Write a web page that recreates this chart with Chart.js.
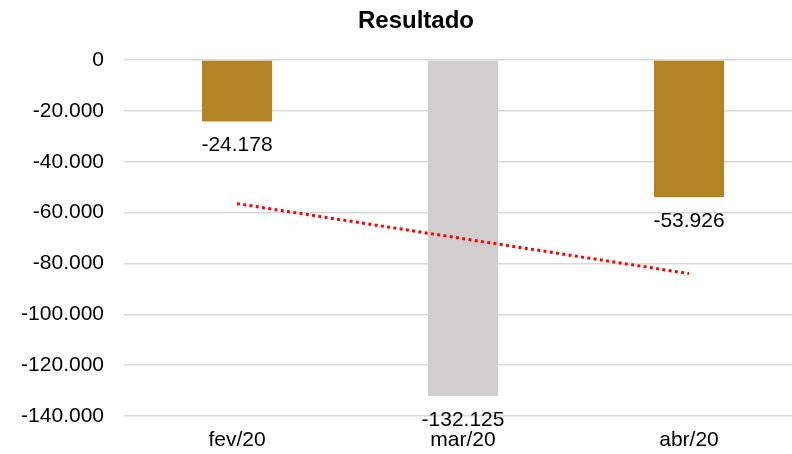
<!DOCTYPE html>
<html>
<head>
<meta charset="utf-8">
<script src="https://cdn.jsdelivr.net/npm/chart.js@4.4.1/dist/chart.umd.min.js"></script>
<style>
  html, body { margin: 0; padding: 0; background: #fff; overflow: hidden; }
  #wrap { width: 810px; height: 454px; position: relative; }
</style>
</head>
<body>
<div id="wrap"><canvas id="c"></canvas></div>
<script>
const categories = ['fev/20', 'mar/20', 'abr/20'];
const resultado = [-24178, -132125, -53926];
const trendValues = [-56500, -70250, -84000];
const yTicks = [0, -20000, -40000, -60000, -80000, -100000, -120000, -140000];
const barColors = ['#B38423', '#D0CECE', '#B38423'];
const chartTitle = 'Resultado';

function fmt(v) {
  const neg = v < 0;
  let s = Math.abs(Math.round(v)).toString();
  s = s.replace(/\B(?=(\d{3})+(?!\d))/g, '.');
  return (neg ? '-' : '') + s;
}

const FONT = '"Liberation Sans", Arial, sans-serif';

const labelPlugin = {
  id: 'barLabels',
  afterDatasetsDraw(chart) {
    const ctx = chart.ctx;
    const meta = chart.getDatasetMeta(1);
    ctx.save();
    ctx.font = '21px ' + FONT;
    ctx.fillStyle = '#000';
    ctx.textAlign = 'center';
    ctx.textBaseline = 'middle';
    meta.data.forEach((bar, i) => {
      ctx.fillText(fmt(resultado[i]), bar.x, bar.y + 24);
    });
    ctx.restore();
  }
};

const titlePlugin = {
  id: 'centeredTitle',
  afterDraw(chart) {
    const ctx = chart.ctx;
    ctx.save();
    ctx.font = 'bold 24px ' + FONT;
    ctx.fillStyle = '#000';
    ctx.textAlign = 'center';
    ctx.textBaseline = 'middle';
    ctx.fillText(chartTitle, 416, 21);
    ctx.restore();
  }
};

new Chart(document.getElementById('c'), {
  type: 'bar',
  data: {
    labels: categories,
    datasets: [
      {
        type: 'line',
        label: 'Tendência',
        data: trendValues,
        borderColor: '#FF0000',
        borderWidth: 3,
        borderDash: [3, 3.33],
        pointRadius: 0,
        fill: false,
        order: 0
      },
      {
        label: 'Resultado',
        data: resultado,
        backgroundColor: barColors,
        borderWidth: 0,
        categoryPercentage: 1,
        barPercentage: 0.31,
        order: 1
      }
    ]
  },
  options: {
    responsive: true,
    maintainAspectRatio: false,
    animation: false,
    layout: { padding: { left: 0, right: 8, top: 60, bottom: 0 } },
    plugins: {
      legend: { display: false },
      tooltip: { enabled: false },
      title: { display: false }
    },
    scales: {
      x: {
        grid: { display: false, drawTicks: false },
        border: { display: false },
        ticks: {
          color: '#000',
          font: { family: FONT, size: 21 },
          padding: 12
        },
        afterFit(scale) { scale.height = 38; }
      },
      y: {
        min: -140000,
        max: 0,
        afterBuildTicks(scale) { scale.ticks = yTicks.map(v => ({ value: v })); },
        grid: { color: '#D9D9D9', lineWidth: 1.5, drawTicks: false },
        border: { display: false },
        ticks: {
          color: '#000',
          font: { family: FONT, size: 21 },
          padding: 20,
          callback: (v) => fmt(v)
        },
        afterFit(scale) { scale.width = 124; }
      }
    }
  },
  plugins: [labelPlugin, titlePlugin]
});
</script>
</body>
</html>
